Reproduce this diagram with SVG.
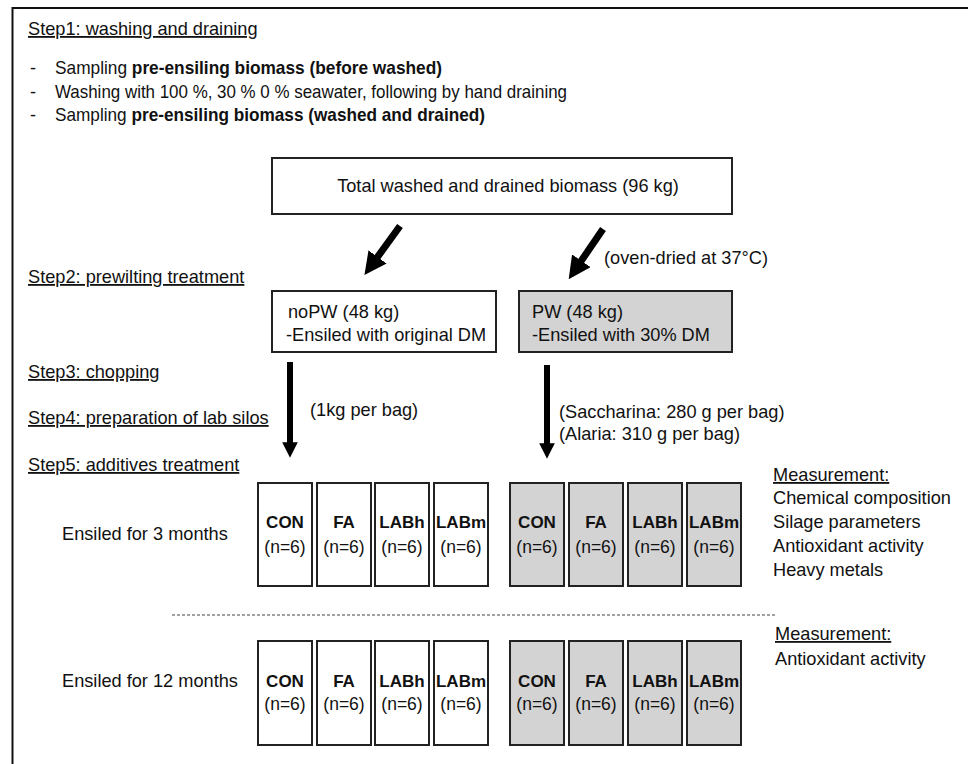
<svg xmlns="http://www.w3.org/2000/svg" width="968" height="764" viewBox="0 0 968 764">
<style>
text{font-family:"Liberation Sans",Arial,sans-serif;font-size:18.2px;fill:#111}
.u{text-decoration:underline}
.b{font-weight:bold}
.box{fill:#fff;stroke:#222;stroke-width:2}
.g{fill:#d3d3d3;stroke:#222;stroke-width:2}
.c{text-anchor:middle}
.bx{font-size:17.5px}
.bb{font-size:17px}
.arr{stroke:#000;stroke-width:7;fill:none}
</style>
<defs>
<marker id="ah" viewBox="0 0 10 10" refX="5" refY="5" markerWidth="3.2" markerHeight="3.2" orient="auto" markerUnits="strokeWidth">
<path d="M0,0 L10,5 L0,10 z" fill="#000"/>
</marker>
<marker id="ahs" viewBox="0 0 10 10" refX="5" refY="5" markerWidth="2.6" markerHeight="2.6" orient="auto" markerUnits="strokeWidth">
<path d="M0,0 L10,5 L0,10 z" fill="#000"/>
</marker>
</defs>
<rect width="968" height="764" fill="#fff"/>
<g id="frame">
<path d="M12.5,764 V8 H968" fill="none" stroke="#111" stroke-width="2"/>
</g>
<g id="steps">
<text x="28" y="35" class="u">Step1: washing and draining</text>
<text x="30" y="74">-</text><text x="55" y="74" textLength="387" lengthAdjust="spacingAndGlyphs">Sampling <tspan class="b">pre-ensiling biomass (before washed)</tspan></text>
<text x="30" y="98">-</text><text x="55" y="98" textLength="512" lengthAdjust="spacingAndGlyphs">Washing with 100 %, 30 % 0 % seawater, following by hand draining</text>
<text x="30" y="121">-</text><text x="55" y="121" textLength="430" lengthAdjust="spacingAndGlyphs">Sampling <tspan class="b">pre-ensiling biomass (washed and drained)</tspan></text>
<text x="28" y="283" class="u">Step2: prewilting treatment</text>
<text x="28" y="378" class="u">Step3: chopping</text>
<text x="28" y="424" class="u">Step4: preparation of lab silos</text>
<text x="28" y="471" class="u">Step5: additives treatment</text>
</g>
<g id="total">
<rect class="box" x="272" y="158" width="460" height="56"/>
<text x="508" y="192" class="c">Total washed and drained biomass (96 kg)</text>
</g>
<g id="noPW">
<rect class="box" x="272" y="291" width="224" height="61"/>
<text x="288" y="318">noPW (48 kg)</text>
<text x="286" y="341">-Ensiled with original DM</text>
</g>
<g id="PW">
<rect class="g" x="519" y="291" width="213" height="61"/>
<text x="532" y="318">PW (48 kg)</text>
<text x="532" y="341">-Ensiled with 30% DM</text>
</g>
<g id="connectors">
<line class="arr" x1="400" y1="226" x2="371" y2="266" marker-end="url(#ah)"/>
<line class="arr" x1="603" y1="229" x2="575" y2="270" marker-end="url(#ah)"/>
<line class="arr" x1="290" y1="362" x2="290" y2="450" style="stroke-width:6" marker-end="url(#ahs)"/>
<line class="arr" x1="547" y1="365" x2="547" y2="451" style="stroke-width:6" marker-end="url(#ahs)"/>
<line x1="172" y1="615" x2="775" y2="615" stroke="#444" stroke-width="1" stroke-dasharray="3 2"/>
</g>
<g id="labels">
<text x="604" y="264">(oven-dried at 37°C)</text>
<text x="310" y="416">(1kg per bag)</text>
<text x="559" y="418">(Saccharina: 280 g per bag)</text>
<text x="559" y="440">(Alaria: 310 g per bag)</text>
<text x="62" y="540">Ensiled for 3 months</text>
<text x="62" y="687">Ensiled for 12 months</text>
</g>
<g id="m3">
<rect class="box" x="258" y="483" width="54" height="103"/><text class="c b bb" x="285" y="528">CON</text><text class="c bx" x="285" y="553">(n=6)</text>
<rect class="box" x="317" y="483" width="54" height="103"/><text class="c b bb" x="344" y="528">FA</text><text class="c bx" x="344" y="553">(n=6)</text>
<rect class="box" x="375" y="483" width="54" height="103"/><text class="c b bb" x="402" y="528">LABh</text><text class="c bx" x="402" y="553">(n=6)</text>
<rect class="box" x="434" y="483" width="54" height="103"/><text class="c b bb" x="461" y="528">LABm</text><text class="c bx" x="461" y="553">(n=6)</text>
<rect class="g" x="510" y="483" width="54" height="103"/><text class="c b bb" x="537" y="528">CON</text><text class="c bx" x="537" y="553">(n=6)</text>
<rect class="g" x="569" y="483" width="54" height="103"/><text class="c b bb" x="596" y="528">FA</text><text class="c bx" x="596" y="553">(n=6)</text>
<rect class="g" x="628" y="483" width="54" height="103"/><text class="c b bb" x="655" y="528">LABh</text><text class="c bx" x="655" y="553">(n=6)</text>
<rect class="g" x="687" y="483" width="54" height="103"/><text class="c b bb" x="714" y="528">LABm</text><text class="c bx" x="714" y="553">(n=6)</text>
</g>
<g id="m12">
<rect class="box" x="258" y="641" width="54" height="104"/><text class="c b bb" x="285" y="687">CON</text><text class="c bx" x="285" y="710">(n=6)</text>
<rect class="box" x="317" y="641" width="54" height="104"/><text class="c b bb" x="344" y="687">FA</text><text class="c bx" x="344" y="710">(n=6)</text>
<rect class="box" x="375" y="641" width="54" height="104"/><text class="c b bb" x="402" y="687">LABh</text><text class="c bx" x="402" y="710">(n=6)</text>
<rect class="box" x="434" y="641" width="54" height="104"/><text class="c b bb" x="461" y="687">LABm</text><text class="c bx" x="461" y="710">(n=6)</text>
<rect class="g" x="510" y="641" width="54" height="104"/><text class="c b bb" x="537" y="687">CON</text><text class="c bx" x="537" y="710">(n=6)</text>
<rect class="g" x="569" y="641" width="54" height="104"/><text class="c b bb" x="596" y="687">FA</text><text class="c bx" x="596" y="710">(n=6)</text>
<rect class="g" x="628" y="641" width="54" height="104"/><text class="c b bb" x="655" y="687">LABh</text><text class="c bx" x="655" y="710">(n=6)</text>
<rect class="g" x="687" y="641" width="54" height="104"/><text class="c b bb" x="714" y="687">LABm</text><text class="c bx" x="714" y="710">(n=6)</text>
</g>
<g id="meas">
<text x="773" y="481" class="u">Measurement:</text>
<text x="773" y="504">Chemical composition</text>
<text x="773" y="528">Silage parameters</text>
<text x="773" y="552">Antioxidant activity</text>
<text x="773" y="576">Heavy metals</text>
<text x="775" y="640" class="u">Measurement:</text>
<text x="775" y="665">Antioxidant activity</text>
</g>
</svg>
